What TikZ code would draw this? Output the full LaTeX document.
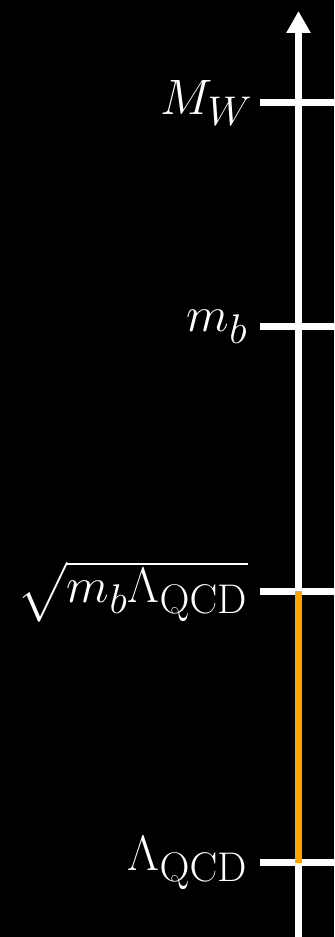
\documentclass[tikz,border=0pt]{standalone}
\usepackage{amsmath,amssymb}
\usepackage{tikz}
\usetikzlibrary{arrows.meta,positioning,calc}
\definecolor{ScaleInk}{HTML}{FFFFFF}
\definecolor{ScaleRun}{HTML}{FFA500}
\tikzset{
  scaleaxis/.style={-{Triangle[width=11.5pt,length=11pt]},line width=3.5pt,draw=ScaleInk},
  scaletick/.style={line width=3.5pt,draw=ScaleInk},
  scalerun/.style={line width=3.5pt,draw=ScaleRun},
  scalelabel/.style={anchor=east,text=ScaleInk,font=\Huge,inner sep=6pt}
}
\begin{document}
\begin{tikzpicture}[x=0.5pt,y=0.5pt]
  \fill[black] (0,0) rectangle (334,937);
  \useasboundingbox (0,0) rectangle (334,937);

  \coordinate (bot) at (298.5,0);
  \coordinate (top) at (298.5,926);
  \draw[scaleaxis] (bot) -- (top);

  \coordinate (MWl) at (260,834);   \coordinate (MWr) at (336,834);
  \coordinate (mbl) at (260,610);   \coordinate (mbr) at (336,610);
  \coordinate (SCl) at (260,345.5); \coordinate (SCr) at (336,345.5);
  \coordinate (LQl) at (260,74);    \coordinate (LQr) at (336,74);
  \coordinate (SC) at (298.5,345.5);
  \coordinate (LQ) at (298.5,74);

  \draw[scaletick] (MWl) -- (MWr);
  \draw[scaletick] (mbl) -- (mbr);
  \draw[scaletick] (SCl) -- (SCr);
  \draw[scaletick] (LQl) -- (LQr);

  \draw[scalerun] (SC) -- (LQ);

  \node[scalelabel,xshift=2.5pt] (MW) at (MWl) {$M_W$};
  \node[scalelabel] (mb) at (mbl) {$m_b$};
  \node[scalelabel] (SCtext) at (SCl) {$\sqrt{m_b\Lambda_{\mathrm{QCD}}}$};
  \node[scalelabel] (LQtext) at (LQl) {$\Lambda_{\mathrm{QCD}}$};
\end{tikzpicture}
\end{document}
